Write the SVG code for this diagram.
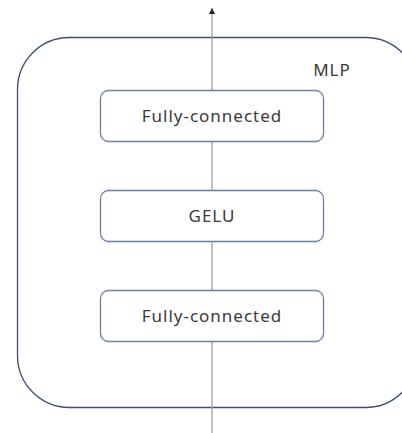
<svg xmlns="http://www.w3.org/2000/svg" width="402" height="433" viewBox="0 0 402 433">
<style>
.box{fill:#fff;stroke:#6e7d9c;stroke-width:1.3}
.lbl{font-family:"Noto Sans","Liberation Sans",sans-serif;font-size:17px;fill:#3a3a3a;text-anchor:middle;letter-spacing:1px}
</style>
<defs>
<marker id="ah" markerWidth="6" markerHeight="6" refX="6" refY="3" orient="auto" markerUnits="userSpaceOnUse">
<path d="M0,0 L6,3 L0,6 Z" fill="#222"/>
</marker>
</defs>
<rect width="402" height="433" fill="#fff"/>
<g id="mlp">
<rect x="17.5" y="37.5" width="400" height="370" rx="52" ry="52" fill="none" stroke="#3d4d72" stroke-width="1.3"/>
<text x="332" y="76" class="lbl">MLP</text>
</g>
<g id="connectors">
<line x1="212" y1="433" x2="212" y2="8" stroke="#a0a0a0" stroke-width="1.3" marker-end="url(#ah)"/>
</g>
<g id="fc1">
<rect class="box" x="100.5" y="90.5" width="223" height="51" rx="8"/>
<text class="lbl" x="212" y="122">Fully-connected</text>
</g>
<g id="gelu">
<rect class="box" x="100.5" y="190.5" width="223" height="51" rx="8"/>
<text class="lbl" x="212" y="222">GELU</text>
</g>
<g id="fc2">
<rect class="box" x="100.5" y="290.5" width="223" height="51" rx="8"/>
<text class="lbl" x="212" y="322">Fully-connected</text>
</g>
</svg>
